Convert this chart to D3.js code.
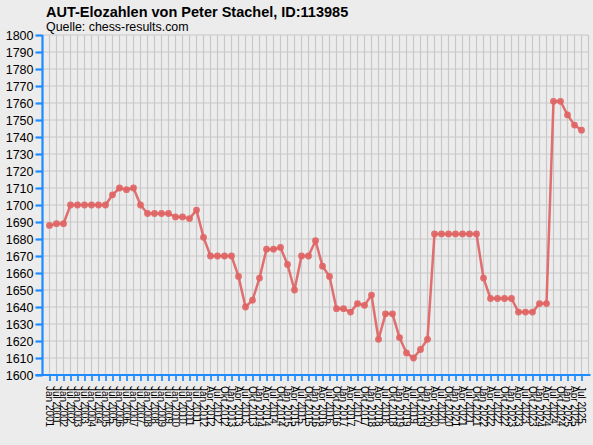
<!DOCTYPE html>
<html>
<head>
<meta charset="utf-8">
<script src="https://cdn.jsdelivr.net/npm/d3@7"></script>
<style>
html,body{margin:0;padding:0;background:#ececec;}
svg{display:block;font-family:"Liberation Sans",Arial,sans-serif;}
</style>
</head>
<body>
<div id="chart"></div>
<script>
const titleText = "AUT-Elozahlen von Peter Stachel, ID:113985";
const subtitleText = "Quelle: chess-results.com";

// Period labels: half-yearly 2001–2011, then quarterly 2012–2025
const periods = [
  "Jan 2001","Jul 2001","Jan 2002","Jul 2002","Jan 2003","Jul 2003","Jan 2004","Jul 2004",
  "Jan 2005","Jul 2005","Jan 2006","Jul 2006","Jan 2007","Jul 2007","Jan 2008","Jul 2008",
  "Jan 2009","Jul 2009","Jan 2010","Jul 2010","Jan 2011","Jul 2011",
  "Jan 2012","Apr 2012","Jul 2012","Okt 2012","Jan 2013","Apr 2013","Jul 2013","Okt 2013",
  "Jan 2014","Apr 2014","Jul 2014","Okt 2014","Jan 2015","Apr 2015","Jul 2015","Okt 2015",
  "Jan 2016","Apr 2016","Jul 2016","Okt 2016","Jan 2017","Apr 2017","Jul 2017","Okt 2017",
  "Jan 2018","Apr 2018","Jul 2018","Okt 2018","Jan 2019","Apr 2019","Jul 2019","Okt 2019",
  "Jan 2020","Apr 2020","Jul 2020","Okt 2020","Jan 2021","Apr 2021","Jul 2021","Okt 2021",
  "Jan 2022","Apr 2022","Jul 2022","Okt 2022","Jan 2023","Apr 2023","Jul 2023","Okt 2023",
  "Jan 2024","Apr 2024","Jul 2024","Okt 2024","Jan 2025","Apr 2025","Jul 2025"
];

const elo = [
  1688,1689,1689,1700,1700,1700,1700,1700,1700,1706,
  1710,1709,1710,1700,1695,1695,1695,1695,1693,1693,
  1692,1697,1681,1670,1670,1670,1670,1658,1640,1644,
  1657,1674,1674,1675,1665,1650,1670,1670,1679,1664,
  1658,1639,1639,1637,1642,1641,1647,1621,1636,1636,
  1622,1613,1610,1615,1621,1683,1683,1683,1683,1683,
  1683,1683,1657,1645,1645,1645,1645,1637,1637,1637,
  1642,1642,1761,1761,1753,1747,1744
];

const yTicks = d3.range(1600, 1801, 10);

const W = 593, H = 445;
const mLeft = 42.5, mRight = 588.5, mTop = 35, mBottom = 375;

const svg = d3.select("#chart").append("svg")
  .attr("width", W).attr("height", H);

svg.append("rect").attr("width", W).attr("height", H).attr("fill", "#ececec");

const x = d3.scalePoint().domain(periods).range([mLeft, mRight]).padding(1);
const y = d3.scaleLinear().domain([1600, 1800]).range([mBottom, mTop]);

// grid
const gridX = d3.range(periods.length + 2).map(i => mLeft + i * x.step());
svg.append("g").selectAll("line").data(gridX).join("line")
  .attr("x1", d => d).attr("x2", d => d)
  .attr("y1", mTop).attr("y2", mBottom)
  .attr("stroke", "#c8c8c8").attr("stroke-width", 1.2);
svg.append("g").selectAll("line").data(yTicks).join("line")
  .attr("x1", mLeft).attr("x2", mRight)
  .attr("y1", d => y(d)).attr("y2", d => y(d))
  .attr("stroke", "#c8c8c8").attr("stroke-width", 1.2);

// line + dots
const color = "#e06464";
svg.append("path").datum(elo)
  .attr("fill", "none").attr("stroke", color).attr("stroke-width", 2.5)
  .attr("stroke-linejoin", "round").attr("opacity", 0.92)
  .attr("d", d3.line().x((d, i) => x(periods[i])).y(d => y(d)));
svg.append("g").selectAll("circle").data(elo).join("circle")
  .attr("cx", (d, i) => x(periods[i])).attr("cy", d => y(d))
  .attr("r", 3.4).attr("fill", color).attr("opacity", 0.92);

// axes
const blue = "#1e8cff";
const yAxis = svg.append("g").attr("transform", `translate(${mLeft},0)`)
  .call(d3.axisLeft(y).tickValues(yTicks).tickSize(7).tickPadding(2).tickFormat(d3.format("d")));
yAxis.select(".domain").attr("stroke", blue).attr("stroke-width", 2.2).attr("d", `M0,${mTop}V${mBottom}`);
yAxis.selectAll(".tick line").attr("stroke", blue).attr("stroke-width", 2.2);
yAxis.selectAll(".tick text").attr("font-size", "12.5px").attr("fill", "#000")
  .attr("font-family", "'Liberation Sans',Arial,sans-serif");

const xAxis = svg.append("g").attr("transform", `translate(0,${mBottom})`)
  .call(d3.axisBottom(x).tickSize(6).tickFormat(""));
xAxis.select(".domain").attr("stroke", blue).attr("stroke-width", 2.2).attr("d", `M${mLeft - 7},0H${mRight + 2}`);
xAxis.selectAll(".tick line").attr("stroke", blue).attr("stroke-width", 2).attr("opacity", 0.85);

svg.append("g").selectAll("text").data(periods).join("text")
  .attr("transform", d => `translate(${x(d)},386) rotate(90)`)
  .attr("dy", "0.35em")
  .attr("font-size", "10px")
  .attr("fill", "#000")
  .style("text-rendering", "optimizeSpeed")
  .text(d => d);

// titles
svg.append("text").attr("x", 46).attr("y", 16.5)
  .attr("font-size", "14.5px").attr("font-weight", "bold").attr("fill", "#000")
  .text(titleText);
svg.append("text").attr("x", 46).attr("y", 30.5)
  .attr("font-size", "12.4px").attr("fill", "#000")
  .text(subtitleText);
</script>
</body>
</html>
